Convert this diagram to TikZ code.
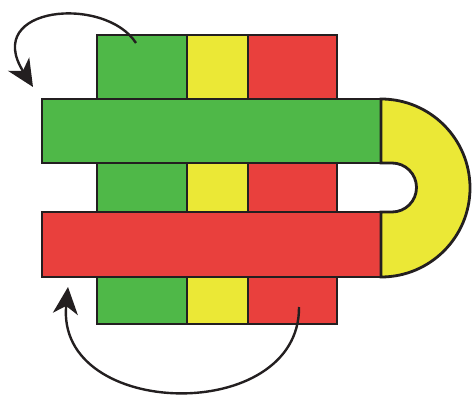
\documentclass[tikz,border=0pt]{standalone}
\usetikzlibrary{arrows.meta}
\definecolor{cg}{HTML}{4FB848}
\definecolor{cy}{HTML}{EBE836}
\definecolor{cr}{HTML}{E9403D}
\definecolor{ck}{HTML}{231F20}
\tikzset{
  strip/.style={draw=ck, line width=2.8pt, line join=miter},
  turn/.style={draw=ck, line width=2.4pt, -{Stealth[length=27pt,width=25pt,inset=8pt]}}
}
\begin{document}
\begin{tikzpicture}[x=1pt,y=-1pt]
\useasboundingbox (0,0) rectangle (473,395);
% vertical strips
\path[strip, fill=cg] (97,35) rectangle (187,324);
\path[strip, fill=cy] (187,35) rectangle (248,324);
\path[strip, fill=cr] (248,35) rectangle (337,324);
% horizontal bars
\path[strip, fill=cg] (42,99) rectangle (381,163);
\path[strip, fill=cr] (42,212) rectangle (381,277);
% yellow U
\path[strip, fill=cy] (381,99) arc[start angle=-90, end angle=90, radius=89]
  -- (381,212) -- (392,212) arc[start angle=90, end angle=-90, radius=24.5] -- (381,163) -- cycle;
% arrows
\coordinate (a1) at (136,43);
\coordinate (a2) at (33,87);
\coordinate (b1) at (299,307);
\coordinate (b2) at (68,287);
\draw[turn] (a1) .. controls (105,-5) and (-18,6) .. (a2);
\draw[turn] (b1) .. controls (300,425) and (55,420) .. (b2);
\end{tikzpicture}
\end{document}
